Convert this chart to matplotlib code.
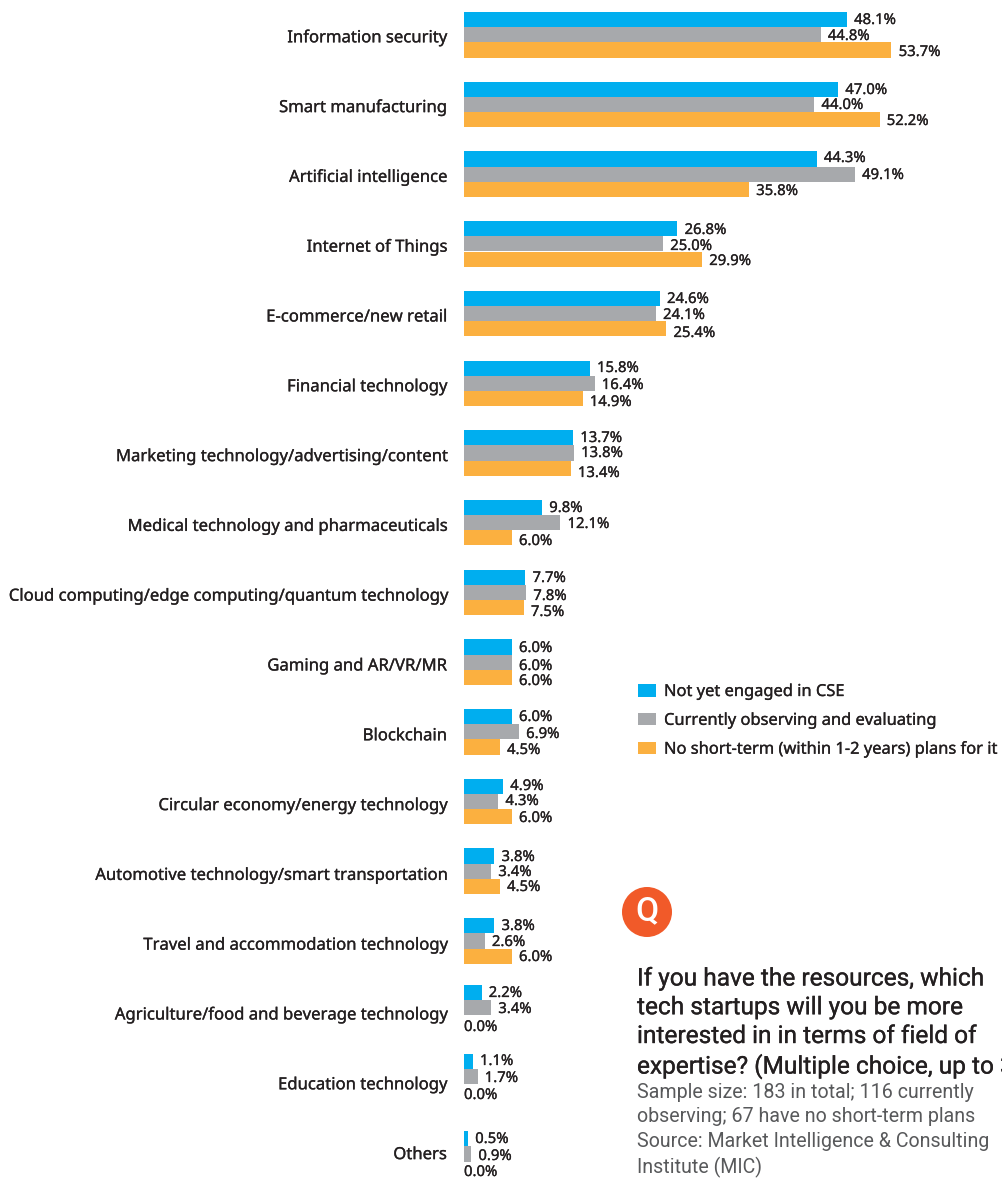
import numpy as np
import matplotlib
matplotlib.use('Agg')
import matplotlib.pyplot as plt
import matplotlib.patheffects as pe
from matplotlib.patches import Circle, Patch

W, H = 1002, 1178

categories = [
    "Information security", "Smart manufacturing", "Artificial intelligence",
    "Internet of Things", "E-commerce/new retail", "Financial technology",
    "Marketing technology/advertising/content",
    "Medical technology and pharmaceuticals",
    "Cloud computing/edge computing/quantum technology", "Gaming and AR/VR/MR",
    "Blockchain", "Circular economy/energy technology",
    "Automotive technology/smart transportation",
    "Travel and accommodation technology",
    "Agriculture/food and beverage technology", "Education technology", "Others",
]
not_engaged = [48.1, 47.0, 44.3, 26.8, 24.6, 15.8, 13.7, 9.8, 7.7, 6.0, 6.0, 4.9, 3.8, 3.8, 2.2, 1.1, 0.5]
observing = [44.8, 44.0, 49.1, 25.0, 24.1, 16.4, 13.8, 12.1, 7.8, 6.0, 6.9, 4.3, 3.4, 2.6, 3.4, 1.7, 0.9]
no_plans = [53.7, 52.2, 35.8, 29.9, 25.4, 14.9, 13.4, 6.0, 7.5, 6.0, 4.5, 6.0, 4.5, 6.0, 0.0, 0.0, 0.0]

series_names = [
    "Not yet engaged in CSE",
    "Currently observing and evaluating",
    "No short-term (within 1-2 years) plans for it",
]
colors = ['#00AEEF', '#A7A9AC', '#FBB040']

question = ("If you have the resources, which\ntech startups will you be more\n"
            "interested in in terms of field of\nexpertise? (Multiple choice, up to 3)")
notes = ("Sample size: 183 in total; 116 currently\nobserving; 67 have no short-term plans\n"
         "Source: Market Intelligence & Consulting\nInstitute (MIC)")

# Layout: pixel rows of the value labels (one triple per category) and group nudges
label_rows = [
    (19, 35, 51), (89, 104, 120), (157, 174, 190), (229, 245, 260), (298, 314, 332),
    (367, 384, 401), (437, 452, 472), (507, 523, 540), (577, 595, 611), (647, 665, 680),
    (716, 733, 749), (785, 800, 817), (856, 871, 886), (925, 941, 956), (992, 1008, 1026),
    (1060, 1077, 1094), (1138, 1155, 1171),
]
group_shift = np.array([0] * 14 + [-3, -4, 4])

fig = plt.figure(figsize=(W / 100, H / 100), dpi=100)

# Value axis spans the whole figure: 7.96 px per percent, zero at x=464
px_per_pct = 7.96
ax = fig.add_axes([0, 0, 1, 1])
ax.set_xlim(-464 / px_per_pct, (W - 464) / px_per_pct)
group_step = 69.7
ax.set_ylim((H - 34.8) / group_step, -34.8 / group_step)
ax.axis('off')

# Overlay in pixel coordinates for text placement
ov = fig.add_axes([0, 0, 1, 1], facecolor='none')
ov.set_xlim(0, W)
ov.set_ylim(H, 0)
ov.axis('off')

bar_h = 15.2 / group_step
y = np.arange(len(categories)) + group_shift / group_step
text_dark = '#231F20'
firm = [pe.withStroke(linewidth=0.2, foreground=text_dark)]

for k, (vals, c) in enumerate(zip([not_engaged, observing, no_plans], colors)):
    ax.barh(y + (k - 1) * bar_h, vals, height=bar_h, color=c, linewidth=0)
    for i, v in enumerate(vals):
        ov.annotate(f"{v:.1f}%", (v, label_rows[i][k] + 1.5), xycoords=(ax.transData, ov.transData),
                    xytext=(5.2 if v > 0 else 0, 0), textcoords='offset points',
                    va='center', ha='left', fontsize=10.7, family='Noto Sans',
                    color=text_dark, path_effects=firm)

for i, cat in enumerate(categories):
    ov.text(446.8, 38.3 + 69.8 * i, cat, ha='right', va='center', fontsize=12,
            family='Noto Sans', color=text_dark, path_effects=firm)

handles = [Patch(color=c, linewidth=0) for c in colors]
leg = ov.legend(handles, series_names, loc='upper left', bbox_to_anchor=(638 / W, 1 - 684 / H),
                frameon=False, handlelength=1.1, handleheight=0.8, handletextpad=0.48,
                labelspacing=0.78, borderpad=0, borderaxespad=0,
                prop={'family': 'Noto Sans', 'size': 11.85}, labelcolor=text_dark)
for t in leg.get_texts():
    t.set_path_effects(firm)

ov.add_patch(Circle((647, 912), 25, facecolor='#F15A29', edgecolor='none'))
ov.text(647, 911, "Q", ha='center', va='center', color='white', fontsize=24,
        family='Roboto', fontweight='medium')

ov.text(637, 967.5, question, ha='left', va='top', fontsize=17.6, family='Roboto',
        color=text_dark, linespacing=1.32, path_effects=firm)
ov.text(637, 1083, notes, ha='left', va='top', fontsize=14.1, family='Roboto',
        color='#58595B', linespacing=1.36)

fig.savefig('out.png', dpi=100)
